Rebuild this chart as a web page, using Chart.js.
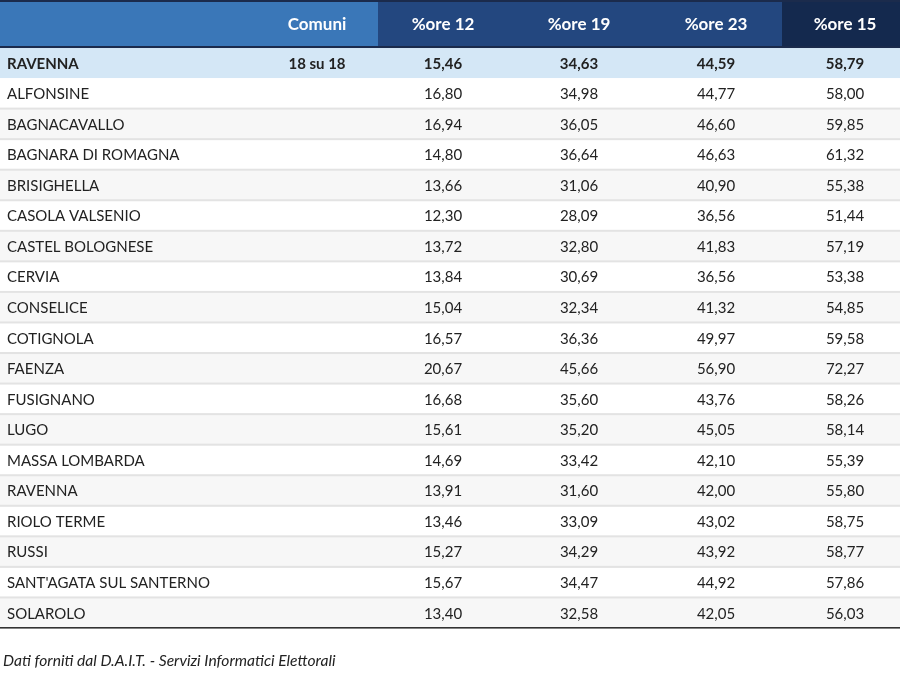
<!DOCTYPE html>
<html>
<head>
<meta charset="utf-8">
<script src="https://cdn.jsdelivr.net/npm/chart.js@4.4.1/dist/chart.umd.min.js"></script>
<style>
html,body{margin:0;padding:0;background:#fff;}
#wrap{position:relative;width:900px;height:680px;}
</style>
</head>
<body>
<div id="wrap"><canvas id="c" width="900" height="680"></canvas></div>
<script>
// ---- data ----
const headers = ['', 'Comuni', '%ore 12', '%ore 19', '%ore 23', '%ore 15'];
const comuni = ['RAVENNA','ALFONSINE','BAGNACAVALLO','BAGNARA DI ROMAGNA','BRISIGHELLA','CASOLA VALSENIO','CASTEL BOLOGNESE','CERVIA','CONSELICE','COTIGNOLA','FAENZA','FUSIGNANO','LUGO','MASSA LOMBARDA','RAVENNA','RIOLO TERME','RUSSI',"SANT'AGATA SUL SANTERNO",'SOLAROLO'];
const sezioni = ['18 su 18','','','','','','','','','','','','','','','','','',''];
const ore12 = [15.46,16.80,16.94,14.80,13.66,12.30,13.72,13.84,15.04,16.57,20.67,16.68,15.61,14.69,13.91,13.46,15.27,15.67,13.40];
const ore19 = [34.63,34.98,36.05,36.64,31.06,28.09,32.80,30.69,32.34,36.36,45.66,35.60,35.20,33.42,31.60,33.09,34.29,34.47,32.58];
const ore23 = [44.59,44.77,46.60,46.63,40.90,36.56,41.83,36.56,41.32,49.97,56.90,43.76,45.05,42.10,42.00,43.02,43.92,44.92,42.05];
const ore15 = [58.79,58.00,59.85,61.32,55.38,51.44,57.19,53.38,54.85,59.58,72.27,58.26,58.14,55.39,55.80,58.75,58.77,57.86,56.03];
const footnote = 'Dati forniti dal D.A.I.T. - Servizi Informatici Elettorali';

// ---- layout (positions / styles) ----
const FONT = 'Lato, "Open Sans", sans-serif';
const colEdges = [0, 255, 378, 510, 646, 782, 900];   // column boundaries on x scale
const colCenters = [7, 317, 443, 579, 716, 845];       // text anchors on x scale
const headerRows = 1.555;                               // header height in row units
const valueCols = [ore12, ore19, ore23, ore15];
const fmt = v => v.toFixed(2).replace('.', ',');

const tablePlugin = {
  id: 'table',
  beforeDatasetsDraw(chart) {
    const ctx = chart.ctx, xs = chart.scales.x, ys = chart.scales.y;
    const X = v => xs.getPixelForValue(v), Y = v => ys.getPixelForValue(v);
    ctx.save();
    // rows background
    comuni.forEach((c, i) => {
      ctx.fillStyle = i === 0 ? '#d4e7f6' : (i % 2 === 0 ? '#f7f7f7' : '#ffffff');
      ctx.fillRect(X(0), Y(i), X(900) - X(0), Y(i + 1) - Y(i));
    });
    // separators
    ctx.fillStyle = '#e3e3e3';
    for (let i = 2; i < comuni.length; i++) {
      ctx.fillRect(X(0), Y(i) - 1, X(900) - X(0), 2);
    }
    // header
    const hTop = Y(-headerRows), hBot = Y(0);
    ctx.fillStyle = '#3a77b8';
    ctx.fillRect(X(0), hTop, X(colEdges[2]) - X(0), hBot - hTop);
    ctx.fillStyle = '#23477f';
    ctx.fillRect(X(colEdges[2]), hTop, X(colEdges[5]) - X(colEdges[2]), hBot - hTop);
    ctx.fillStyle = '#14294e';
    ctx.fillRect(X(colEdges[5]), hTop, X(900) - X(colEdges[5]), hBot - hTop);
    ctx.fillStyle = '#1b2b4c';
    ctx.fillRect(X(0), hTop, X(900) - X(0), 2);
    ctx.fillRect(X(0), hBot - 1.5, X(900) - X(0), 2);
    // bottom border
    ctx.fillStyle = '#333333';
    ctx.fillRect(X(0), Y(comuni.length) - 1, X(900) - X(0), 1.6);

    // header text
    ctx.textBaseline = 'middle';
    ctx.fillStyle = '#ffffff';
    ctx.font = 'bold 17px ' + FONT;
    const hMid = (hTop + hBot) / 2 + 1;
    headers.forEach((h, j) => {
      if (!h) return;
      ctx.textAlign = j === 0 ? 'left' : 'center';
      ctx.fillText(h, X(colCenters[j]), hMid);
    });
    // body text
    comuni.forEach((c, i) => {
      const yMid = (Y(i) + Y(i + 1)) / 2 + 1;
      ctx.fillStyle = '#222222';
      ctx.font = (i === 0 ? 'bold ' : '') + '15px ' + FONT;
      ctx.textAlign = 'left';
      ctx.fillText(c, X(colCenters[0]), yMid);
      ctx.textAlign = 'center';
      if (sezioni[i]) ctx.fillText(sezioni[i], X(colCenters[1]), yMid);
      valueCols.forEach((arr, k) => {
        ctx.fillText(fmt(arr[i]), X(colCenters[k + 2]), yMid);
      });
    });
    // footnote
    ctx.font = 'italic 15.6px ' + FONT;
    ctx.fillStyle = '#222222';
    ctx.textAlign = 'left';
    ctx.fillText(footnote, X(3), Y(comuni.length) + 33);
    ctx.restore();
  }
};

new Chart(document.getElementById('c'), {
  type: 'scatter',
  data: { datasets: [] },
  options: {
    responsive: false,
    animation: false,
    layout: { padding: { left: 0, right: 0, top: 0, bottom: 52 } },
    plugins: { legend: { display: false }, tooltip: { enabled: false } },
    scales: {
      x: { type: 'linear', display: false, min: 0, max: 900 },
      y: { type: 'linear', display: false, reverse: true, min: -headerRows, max: comuni.length }
    }
  },
  plugins: [tablePlugin]
});
</script>
</body>
</html>
